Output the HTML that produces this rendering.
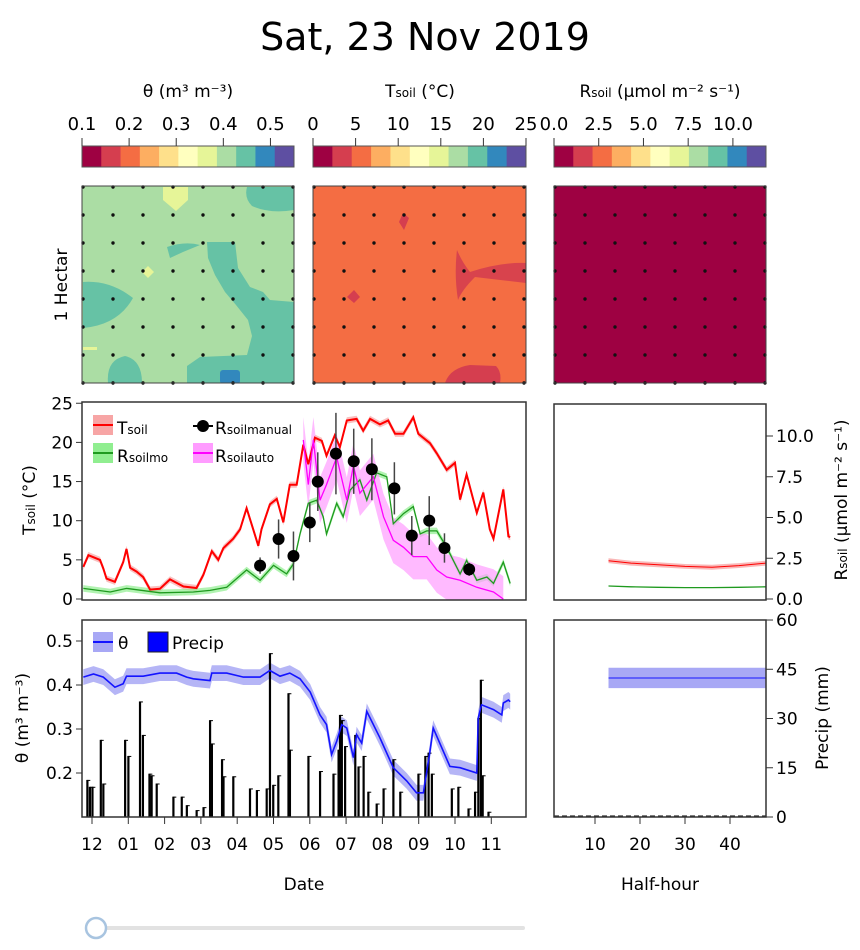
<!DOCTYPE html>
<html><head><meta charset="utf-8"><style>
html,body{margin:0;padding:0;background:#fff;}
svg{display:block;font-family:"DejaVu Sans","Liberation Sans",sans-serif;}
</style></head><body>
<svg id="fig" width="860" height="950" viewBox="0 0 860 950" xmlns="http://www.w3.org/2000/svg">
<text x="425" y="50" font-size="38" text-anchor="middle" fill="#000">Sat, 23 Nov 2019</text>

<g>
<text x="188" y="97" font-size="17" text-anchor="middle">θ (m³ m⁻³)</text>
</g>
<g>
<text x="420" y="97" font-size="17" text-anchor="middle">T<tspan font-size="12">soil</tspan> (°C)</text>
</g>
<g>
<text x="660" y="97" font-size="17" text-anchor="middle">R<tspan font-size="12">soil</tspan> (µmol m⁻² s⁻¹)</text>
</g>
<g id="cbars"></g>

<defs>
<clipPath id="clipTheta"><rect x="82" y="186" width="212" height="197"/></clipPath>
<clipPath id="clipT"><rect x="313" y="186" width="213" height="197"/></clipPath>
<clipPath id="clipMid"><rect x="82" y="402" width="444" height="198"/></clipPath>
<clipPath id="clipBot"><rect x="82" y="620" width="444" height="197"/></clipPath>
</defs>
<g clip-path="url(#clipTheta)">
<rect x="82" y="186" width="212" height="197" fill="#abdda4"/>
<path d="M247,187 L294,187 L294,210 Q270,214 252,206 Q244,198 247,187Z" fill="#66c2a5"/>
<path d="M163,187 L188,187 L188,200 L176,211 L163,200Z" fill="#e6f598"/>
<path d="M83,282 Q110,280 133,298 Q118,325 83,328Z" fill="#66c2a5"/>
<path d="M167,247 Q185,241 200,245 L183,252 L170,258Z" fill="#66c2a5"/>
<path d="M207,242 L235,242 L238,268 L250,287 L263,292 L270,300 L294,302 L294,383 L187,383 L187,366 L200,357 L247,355 L252,336 L248,320 L236,305 L225,292 L215,275 L208,258Z" fill="#66c2a5"/>
<path d="M108,383 Q106,360 125,356 Q142,360 142,383Z" fill="#66c2a5"/>
<rect x="220" y="370" width="20" height="14" rx="3" fill="#3288bd"/>
<path d="M148,266 L154,272 L148,278 L142,272Z" fill="#e6f598"/>
<rect x="83" y="347" width="14" height="3" fill="#e6f598"/>
</g>
<g clip-path="url(#clipT)">
<rect x="313" y="186" width="213" height="197" fill="#f46d43"/>
<path d="M403,213 L409,218 L404,230 L399,222Z" fill="#d53e4f"/>
<path d="M457,250 Q462,262 470,272 Q500,262 526,263 L526,283 Q500,280 475,277 Q462,290 458,300 Q454,275 457,250Z" fill="#d53e4f" opacity="0.9"/>
<path d="M347,297 L354,290 L360,297 L354,303Z" fill="#d53e4f"/>
<path d="M445,383 Q450,368 470,365 L496,366 Q502,372 500,383Z" fill="#d53e4f"/>
</g>
<g>
<rect x="554" y="186" width="212" height="197" fill="#9e0142"/>
</g>
<g id="dots"></g>
<rect x="82" y="186" width="212" height="197" fill="none" stroke="#444" stroke-width="1"/>
<rect x="313" y="186" width="213" height="197" fill="none" stroke="#444" stroke-width="1"/>
<rect x="554" y="186" width="212" height="197" fill="none" stroke="#444" stroke-width="1"/>
<text transform="translate(67,285) rotate(-90)" font-size="17" text-anchor="middle">1 Hectar</text>

<g id="mid"></g>
<g id="bot"></g>
<g id="rmid"></g>
<g id="rbot"></g>

<text transform="translate(35,500) rotate(-90)" font-size="17" text-anchor="middle">T<tspan font-size="12">soil</tspan> (°C)</text>
<text transform="translate(847,500) rotate(-90)" font-size="17" text-anchor="middle">R<tspan font-size="12">soil</tspan> (µmol m⁻² s⁻¹)</text>
<text transform="translate(28,718) rotate(-90)" font-size="17" text-anchor="middle">θ (m³ m⁻³)</text>
<text transform="translate(828,718) rotate(-90)" font-size="17" text-anchor="middle">Precip (mm)</text>
<text x="304" y="890" font-size="17" text-anchor="middle">Date</text>
<text x="660" y="890" font-size="17" text-anchor="middle">Half-hour</text>

<g>
<rect x="95" y="926" width="430" height="4" rx="2" fill="#e2e2e2"/>
<circle cx="96" cy="928" r="10" fill="#fff" stroke="#a8c4e0" stroke-width="2.5"/>
</g>
</svg>
<script>
const spectral = ["#9e0142","#d53e4f","#f46d43","#fdae61","#fee08b","#ffffbf","#e6f598","#abdda4","#66c2a5","#3288bd","#5e4fa2"];
const thetaCbTicks = [0.1,0.2,0.3,0.4,0.5];
const tsoilCbTicks = [0,5,10,15,20,25];
const rsoilCbTicks = [0.0,2.5,5.0,7.5,10.0];
const monthLabels = ["12","01","02","03","04","05","06","07","08","09","10","11"];
const tsoilT = [-0.24,-0.10,0.22,0.31,0.40,0.63,0.86,0.95,1.05,1.23,1.41,1.60,1.87,2.15,2.52,2.88,3.07,3.30,3.48,3.62,3.89,4.08,4.26,4.44,4.58,4.67,4.90,5.09,5.27,5.45,5.64,5.82,5.96,6.14,6.33,6.46,6.69,6.83,7.02,7.29,7.47,7.66,7.93,8.16,8.35,8.58,8.85,8.99,9.31,9.50,9.77,10.00,10.14,10.32,10.60,10.78,10.96,11.06,11.33,11.47,11.52];
const tsoilV = [4.1,5.6,5.0,3.9,2.6,2.2,4.7,6.4,4.0,3.5,2.8,1.2,1.3,2.5,1.6,1.4,3.1,6.1,5.0,6.5,7.7,8.9,11.6,8.9,6.8,8.9,12.1,12.8,9.8,14.6,14.6,19.7,17.2,20.6,20.2,18.3,20.9,19.4,22.8,23.0,21.5,23.0,22.3,22.8,21.1,21.1,23.2,21.1,19.9,18.6,16.5,17.4,12.7,15.9,11.0,13.6,8.9,7.7,14.0,8.0,7.9];
const rmoT = [-0.24,0.50,0.95,1.87,2.79,3.25,3.71,4.26,4.63,5.00,5.36,5.55,5.73,5.96,6.19,6.37,6.46,6.74,6.92,7.11,7.38,7.57,7.84,8.12,8.30,8.58,8.85,9.04,9.22,9.50,9.77,10.14,10.32,10.60,10.88,11.06,11.33,11.52];
const rmoV = [0.65,0.43,0.65,0.38,0.43,0.53,0.72,1.78,1.15,2.07,1.54,2.16,3.99,5.87,6.06,5.05,3.99,5.87,5.05,6.68,7.31,6.06,7.74,7.50,4.62,5.24,5.67,3.99,4.18,4.18,3.17,1.54,2.36,1.15,1.35,0.96,2.26,0.96];
const rautoT = [5.82,5.96,6.10,6.28,6.46,6.74,7.02,7.20,7.38,7.75,8.03,8.30,8.58,8.85,9.22,9.50,9.77,10.14,10.60,11.06,11.33];
const rautoV = [9.76,7.02,9.76,6.06,7.02,8.70,6.06,8.17,6.49,7.50,5.05,3.60,3.17,2.60,2.60,1.78,1.35,1.15,0.72,0.43,0.0];
const manT = [4.63,5.14,5.55,6.00,6.22,6.72,7.21,7.71,8.33,8.81,9.29,9.71,10.39];
const manV = [2.05,3.68,2.64,4.69,7.20,8.92,8.45,7.96,6.79,3.89,4.81,3.13,1.82];
const manErr = [0.5,1.2,1.5,1.2,1.8,2.5,2.0,1.9,1.6,1.2,1.5,0.9,0.4];
const thetaT = [-0.24,0.04,0.31,0.63,0.86,0.95,1.41,1.87,2.33,2.61,2.79,3.25,3.30,3.71,4.17,4.63,4.90,5.18,5.45,5.73,6.01,6.28,6.46,6.60,6.74,6.88,7.02,7.20,7.29,7.43,7.57,7.93,8.30,8.67,8.94,9.13,9.31,9.40,9.86,10.14,10.60,10.64,10.73,11.06,11.29,11.33,11.47,11.52];
const thetaV = [0.418,0.425,0.418,0.395,0.403,0.420,0.420,0.427,0.427,0.418,0.414,0.410,0.427,0.427,0.418,0.418,0.433,0.420,0.427,0.414,0.384,0.332,0.310,0.242,0.272,0.310,0.302,0.235,0.287,0.268,0.340,0.280,0.212,0.182,0.155,0.155,0.250,0.302,0.215,0.212,0.200,0.325,0.355,0.344,0.332,0.359,0.366,0.362];
const precipT = [-0.13,-0.06,0.01,0.24,0.31,0.91,1.00,1.32,1.40,1.58,1.64,1.78,2.24,2.47,2.61,2.88,3.07,3.25,3.30,3.58,3.62,3.89,4.35,4.54,4.81,4.90,4.99,5.13,5.41,5.45,5.96,6.28,6.65,6.79,6.83,6.88,6.97,7.25,7.34,7.48,7.61,7.84,8.03,8.30,8.49,8.99,9.18,9.27,9.36,9.91,10.09,10.37,10.55,10.64,10.71,10.76,10.92];
const precipV = [11.3,9.2,9.2,23.5,10.2,23.5,18.6,35.2,25.0,13.2,12.7,10.2,6.2,6.2,3.6,2.1,3.0,29.5,22.4,17.6,12.4,12.4,8.7,8.2,8.7,49.9,9.8,12.7,37.7,20.5,18.6,14.0,13.2,20.5,31.1,29.5,21.6,25.0,15.4,18.6,7.7,4.1,8.7,17.6,7.7,13.2,18.6,19.6,13.2,8.7,9.2,2.6,7.7,30.1,41.8,12.7,1.6];
const hhT = [13,18,24,30,36,42,48];
const hhTsoil = [2.35,2.2,2.1,2.0,1.95,2.05,2.2];
const hhRmo = [0.8,0.75,0.72,0.7,0.7,0.72,0.75];
const hhTheta = [0.416,0.416,0.416,0.416,0.416,0.416,0.416];
const hhTicks = [10,20,30,40];
const tsoilTicks = [0,5,10,15,20,25];
const rRightTicks = [0.0,2.5,5.0,7.5,10.0];
const thetaTicks = [0.2,0.3,0.4,0.5];
const precipTicks = [0,15,30,45,60];

const NS="http://www.w3.org/2000/svg";
function mk(tag,attrs,parent){const e=document.createElementNS(NS,tag);for(const k in attrs)e.setAttribute(k,attrs[k]);parent.appendChild(e);return e;}
const xDate = m => 92 + m*36.3;
const yT = v => 599 - v*7.83;
const yR = v => 599 - v*16.3;
const yTh = v => 817 - (v-0.1)*440;
const yP = v => 817 - v*3.283;
const xHH = h => 550 + h*4.5;
const FS = 17;
const fmt = (a,b,fx,fy)=>a.map((t,i)=>fx(t).toFixed(1)+","+fy(b[i]).toFixed(1)).join(" ");
function band(ts,vs,fx,fy,w){const up=ts.map((t,i)=>fx(t).toFixed(1)+","+fy(vs[i]+w).toFixed(1));const dn=ts.map((t,i)=>fx(t).toFixed(1)+","+fy(vs[i]-w).toFixed(1)).reverse();return up.concat(dn).join(" ");}

const cb=document.getElementById('cbars');
function colorbar(x0,w,min,max,ticks,labels,name){
  const g=mk('g',{},cb);
  
  
  const sw=w/11;
  spectral.forEach((c,i)=>{const r=mk('rect',{x:x0+i*sw,y:146,width:sw+0.5,height:21,fill:c},g);
    
    });
  mk('rect',{x:x0,y:146,width:w,height:21,fill:'none',stroke:'#555','stroke-width':1},g);
  ticks.forEach((t,i)=>{const x=x0+(t-min)/(max-min)*w;
    mk('line',{x1:x,x2:x,y1:138,y2:146,stroke:'#333'},g);
    const tx=mk('text',{x:x,y:130,'font-size':18,'text-anchor':'middle'},g);tx.textContent=labels[i];
    
    });
}
colorbar(82,212,0.1,0.55,thetaCbTicks,thetaCbTicks.map(v=>v.toFixed(1)),'theta');
colorbar(313,213,0,25,tsoilCbTicks,tsoilCbTicks.map(String),'tsoil');
colorbar(554,212,0,11.85,rsoilCbTicks,rsoilCbTicks.map(v=>v.toFixed(1)),'rsoil');

const dg=document.getElementById('dots');
[83,314,555].forEach(x0=>{for(let i=0;i<8;i++)for(let j=0;j<8;j++){const d=mk('circle',{cx:x0+i*30,cy:187+j*28,r:1.7,fill:'#111'},dg);
  
  }});

const mid=document.getElementById('mid');
const midClip=mk('g',{'clip-path':'url(#clipMid)'},mid);
const bTs=mk('polygon',{points:band(tsoilT,tsoilV,xDate,yT,0.4),fill:'#f7a5a5',opacity:0.7},midClip);


const bRm=mk('polygon',{points:band(rmoT,rmoV,xDate,yR,0.2),fill:'#90ee90',opacity:0.7},midClip);


const bRa=mk('polygon',{points:band(rautoT,rautoV,xDate,yR,1.4),fill:'#ff9cff',opacity:0.7},midClip);


const lTs=mk('polyline',{points:fmt(tsoilT,tsoilV,xDate,yT),fill:'none',stroke:'#ff0000','stroke-width':2},midClip);


const lRm=mk('polyline',{points:fmt(rmoT,rmoV,xDate,yR),fill:'none',stroke:'#1f9a1f','stroke-width':1.3},midClip);


const lRa=mk('polyline',{points:fmt(rautoT,rautoV,xDate,yR),fill:'none',stroke:'#ff00ff','stroke-width':1.3},midClip);


manT.forEach((t,i)=>{
  const l=mk('line',{x1:xDate(t),x2:xDate(t),y1:yR(manV[i]-manErr[i]),y2:yR(manV[i]+manErr[i]),stroke:'#444','stroke-width':1.5},midClip);
  
  
  const c=mk('circle',{cx:xDate(t),cy:yR(manV[i]),r:6,fill:'#000'},midClip);
  
  
});
mk('rect',{x:82,y:402,width:444,height:198,fill:'none',stroke:'#333','stroke-width':1.5},mid);
tsoilTicks.forEach(t=>{mk('line',{x1:76,x2:82,y1:yT(t),y2:yT(t),stroke:'#333'},mid);
  const tx=mk('text',{x:73,y:yT(t)+6,'font-size':FS,'text-anchor':'end'},mid);tx.textContent=t;
  
  });
const lg=mk('g',{},mid);


mk('rect',{x:93,y:415,width:20,height:20,fill:'#f7a5a5'},lg);mk('line',{x1:93,x2:113,y1:425,y2:425,stroke:'#f00','stroke-width':2},lg);
let tt=mk('text',{x:117,y:434,'font-size':FS},lg);tt.innerHTML='T<tspan font-size="12">soil</tspan>';
mk('rect',{x:93,y:443,width:20,height:20,fill:'#90ee90'},lg);mk('line',{x1:93,x2:113,y1:453,y2:453,stroke:'#1f9a1f','stroke-width':2},lg);
tt=mk('text',{x:117,y:462,'font-size':FS},lg);tt.innerHTML='R<tspan font-size="12">soilmo</tspan>';
mk('line',{x1:193,x2:213,y1:426,y2:426,stroke:'#000','stroke-width':2},lg);mk('circle',{cx:203,cy:426,r:6,fill:'#000'},lg);
tt=mk('text',{x:215,y:434,'font-size':FS},lg);tt.innerHTML='R<tspan font-size="12">soilmanual</tspan>';
mk('rect',{x:193,y:443,width:20,height:20,fill:'#ff9cff'},lg);mk('line',{x1:193,x2:213,y1:453,y2:453,stroke:'#f0f','stroke-width':2},lg);
tt=mk('text',{x:215,y:462,'font-size':FS},lg);tt.innerHTML='R<tspan font-size="12">soilauto</tspan>';

const bot=document.getElementById('bot');
const botClip=mk('g',{'clip-path':'url(#clipBot)'},bot);
const bTh=mk('polygon',{points:band(thetaT,thetaV,xDate,yTh,0.018),fill:'#a8a8f5',opacity:0.85},botClip);


precipT.forEach((t,i)=>{const r=mk('rect',{x:xDate(t)-1,y:yP(precipV[i]),width:2.2,height:817-yP(precipV[i]),fill:'#000'},botClip);
  
  
  mk('line',{x1:xDate(t),x2:xDate(t)+3,y1:yP(precipV[i])+0.5,y2:yP(precipV[i])+0.5,stroke:'#000'},botClip);});
const lTh=mk('polyline',{points:fmt(thetaT,thetaV,xDate,yTh),fill:'none',stroke:'#1414ff','stroke-width':1.6},botClip);


mk('rect',{x:82,y:620,width:444,height:197,fill:'none',stroke:'#333','stroke-width':1.5},bot);
thetaTicks.forEach(t=>{mk('line',{x1:76,x2:82,y1:yTh(t),y2:yTh(t),stroke:'#333'},bot);
  const tx=mk('text',{x:73,y:yTh(t)+6,'font-size':FS,'text-anchor':'end'},bot);tx.textContent=t.toFixed(1);
  
  });
monthLabels.forEach((m,i)=>{const x=xDate(i);mk('line',{x1:x,x2:x,y1:817,y2:824,stroke:'#333'},bot);
  const tx=mk('text',{x:x,y:850,'font-size':FS,'text-anchor':'middle'},bot);tx.textContent=m;
  
  });
const lg2=mk('g',{},bot);


mk('rect',{x:93,y:632,width:20,height:20,fill:'#a8a8f5'},lg2);mk('line',{x1:93,x2:113,y1:642,y2:642,stroke:'#1414ff','stroke-width':2},lg2);
tt=mk('text',{x:118,y:649,'font-size':FS},lg2);tt.textContent='θ';
mk('rect',{x:148,y:632,width:20,height:20,fill:'#0000ff',stroke:'#222'},lg2);
tt=mk('text',{x:172,y:649,'font-size':FS},lg2);tt.textContent='Precip';

const rm=document.getElementById('rmid');
const rb1=mk('polygon',{points:band(hhT,hhTsoil,xHH,yR,0.15),fill:'#f7a5a5',opacity:0.8},rm);


const rl1=mk('polyline',{points:fmt(hhT,hhTsoil,xHH,yR),fill:'none',stroke:'#ff0000','stroke-width':1},rm);


const rl2=mk('polyline',{points:fmt(hhT,hhRmo,xHH,yR),fill:'none',stroke:'#1f9a1f','stroke-width':1.3},rm);


mk('rect',{x:554,y:404,width:212,height:196,fill:'none',stroke:'#333','stroke-width':1.5},rm);
rRightTicks.forEach(t=>{mk('line',{x1:766,x2:773,y1:yR(t),y2:yR(t),stroke:'#333'},rm);
  const tx=mk('text',{x:776,y:yR(t)+6,'font-size':FS},rm);tx.textContent=t.toFixed(1);
  
  });

const rbt=document.getElementById('rbot');
const rb2=mk('polygon',{points:band(hhT,hhTheta,xHH,yTh,0.023),fill:'#a8a8f5'},rbt);


const rl3=mk('polyline',{points:fmt(hhT,hhTheta,xHH,yTh),fill:'none',stroke:'#1414ff','stroke-width':1},rbt);


mk('line',{x1:554,x2:766,y1:816,y2:816,stroke:'#333','stroke-dasharray':'5,3','stroke-width':1.2},rbt);
mk('rect',{x:554,y:620,width:212,height:197,fill:'none',stroke:'#333','stroke-width':1.5},rbt);
precipTicks.forEach(t=>{mk('line',{x1:766,x2:773,y1:yP(t),y2:yP(t),stroke:'#333'},rbt);
  const tx=mk('text',{x:776,y:yP(t)+6,'font-size':FS},rbt);tx.textContent=t;
  
  });
hhTicks.forEach(h=>{mk('line',{x1:xHH(h),x2:xHH(h),y1:817,y2:824,stroke:'#333'},rbt);
  const tx=mk('text',{x:xHH(h),y:850,'font-size':FS,'text-anchor':'middle'},rbt);tx.textContent=h;
  
  });
</script>
</body></html>
